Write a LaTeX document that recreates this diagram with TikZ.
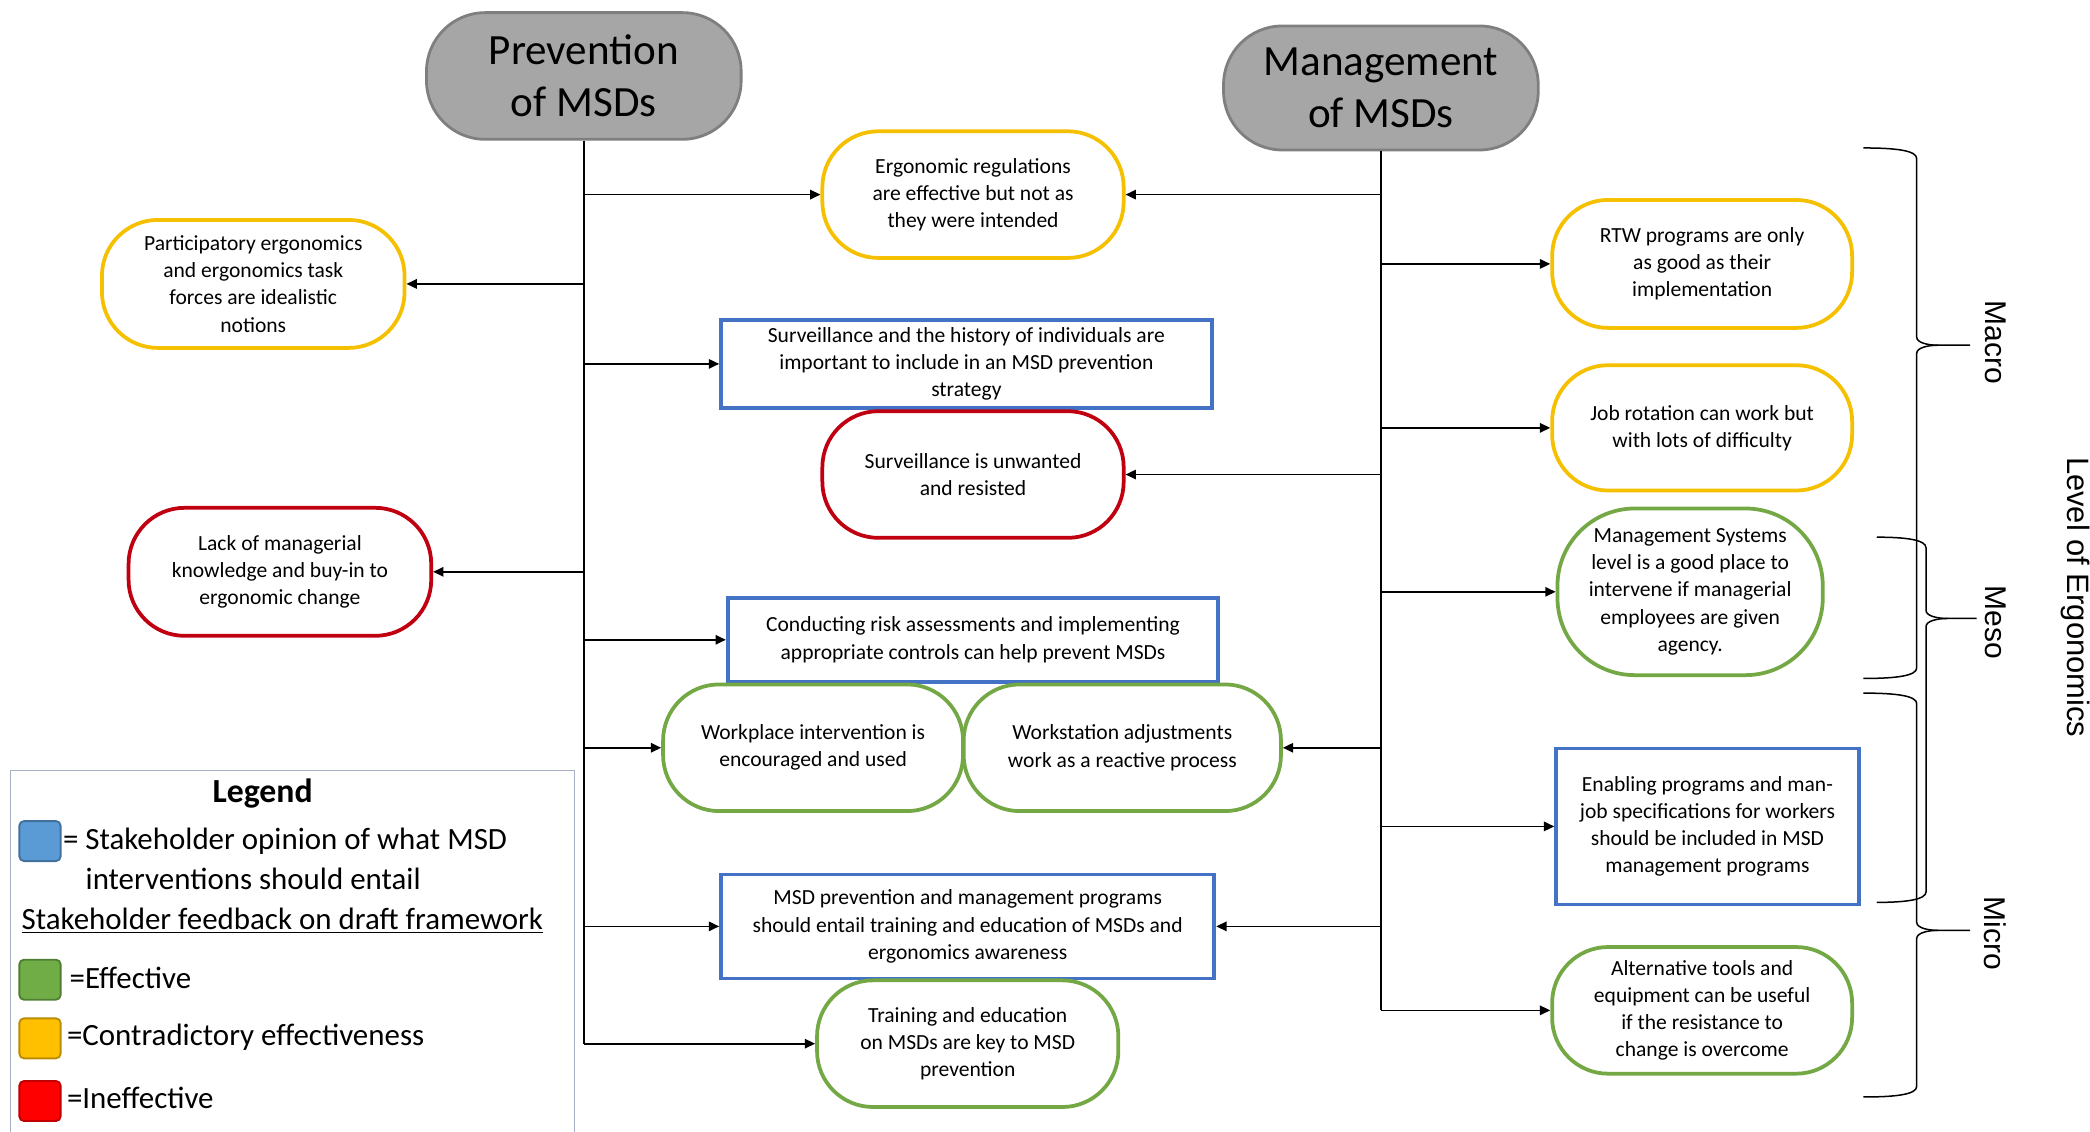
\documentclass[tikz,border=0pt]{standalone}
\usepackage{fontspec}
\setmainfont{Carlito}
\newfontfamily\arialf{Liberation Sans}
\usetikzlibrary{arrows.meta}
\definecolor{cyel}{HTML}{F5C000}
\definecolor{cred}{HTML}{C00010}
\definecolor{cgrn}{HTML}{74A845}
\definecolor{cblue}{HTML}{4472C4}
\definecolor{tfill}{HTML}{A6A6A6}
\definecolor{tborder}{HTML}{7F7F7F}
\definecolor{legb}{HTML}{A8B0C4}
\definecolor{sqblue}{HTML}{5B9BD5}
\definecolor{sqblueb}{HTML}{41719C}
\definecolor{sqgrn}{HTML}{70AD47}
\definecolor{sqgrnb}{HTML}{507E32}
\definecolor{sqyel}{HTML}{FFC000}
\definecolor{sqyelb}{HTML}{BC8C00}
\definecolor{sqred}{HTML}{FF0000}
\definecolor{sqredb}{HTML}{C00000}
\newcommand\lvlbrace[6]{%
\draw[line width=0.8pt] (#1,#4) .. controls (#2-15,#4) and (#2,#4+2) .. (#2,#4+8) -- (#2,#5-6) .. controls (#2,#5-2) and (#2+8,#5) .. (#2+16,#5) -- (#3,#5);
\draw[line width=0.8pt] (#2+16,#5) .. controls (#2+8,#5) and (#2,#5+2) .. (#2,#5+6) -- (#2,#6-8) .. controls (#2,#6-2) and (#2-15,#6) .. (#1,#6);}
\tikzset{
  ntext/.style={font=\fontsize{11.5}{14.5}\selectfont},
  ov/.style={draw, line width=2pt, rounded corners=1.05cm, inner sep=0pt, align=center, fill=white, ntext},
  yel/.style={ov, draw=cyel},
  rednode/.style={ov, draw=cred},
  grn/.style={ov, draw=cgrn},
  bbox/.style={draw=cblue, line width=2pt, inner sep=0pt, align=center, fill=white, ntext},
  titlenode/.style={draw=tborder, fill=tfill, line width=1.5pt, rounded corners=1.1cm, align=center, inner sep=0pt,
     minimum width=5.9cm, font=\fontsize{23}{27.6}\selectfont},
  arr/.style={-{Triangle[length=5.5pt,width=5pt]}, line width=0.9pt},
  trunk/.style={line width=0.9pt},
  lvl/.style={rotate=-90, font=\arialf\fontsize{16}{19}\selectfont, inner sep=0pt},
  legf/.style={font=\fontsize{16.5}{20}\selectfont, anchor=west, inner sep=0pt},
  sq/.style={line width=1pt, rounded corners=2.5pt, minimum width=0.775cm, minimum height=0.75cm, inner sep=0pt}
}
\begin{document}
\begin{tikzpicture}[x=0.025cm,y=-0.025cm]
\useasboundingbox (0,0) rectangle (1568,849);
\fill[white] (0,0) rectangle (1568,849);

% titles
\node[titlenode, minimum height=2.375cm] (prev) at (438,57) {Prevention\\of MSDs};
\node[titlenode, minimum height=2.325cm] (mgmt) at (1036,66) {Management\\of MSDs};

% centre nodes
\node[yel, minimum width=5.65cm, minimum height=2.375cm] (er) at (730,146) {Ergonomic regulations\\are effective but not as\\they were intended};
\node[yel, minimum width=5.675cm, minimum height=2.4cm] (part) at (190,213) {Participatory ergonomics\\and ergonomics task\\forces are idealistic\\notions};
\node[bbox, minimum width=9.2cm, minimum height=1.65cm] (surv) at (725,273) {Surveillance and the history of individuals are\\important to include in an MSD prevention\\strategy};
\node[rednode, minimum width=5.65cm, minimum height=2.375cm] (sunw) at (730,356) {Surveillance is unwanted\\and resisted};
\node[rednode, minimum width=5.675cm, minimum height=2.4cm] (lack) at (210,429) {Lack of managerial\\knowledge and buy-in to\\ergonomic change};
\node[bbox, minimum width=9.2cm, minimum height=1.575cm] (risk) at (730,480) {Conducting risk assessments and implementing\\appropriate controls can help prevent MSDs};
\node[grn, minimum width=5.625cm, minimum height=2.375cm] (wpi) at (610,561) {Workplace intervention is\\encouraged and used};
\node[grn, minimum width=5.95cm, minimum height=2.375cm] (wsa) at (842,561) {Workstation adjustments\\work as a reactive process};
\node[bbox, minimum width=9.25cm, minimum height=1.95cm] (msdp) at (726,695) {MSD prevention and management programs\\should entail training and education of MSDs and\\ergonomics awareness};
\node[grn, minimum width=5.65cm, minimum height=2.375cm] (train) at (726,783) {Training and education\\on MSDs are key to MSD\\prevention};

% right nodes
\node[yel, minimum width=5.625cm, minimum height=2.4cm] (rtw) at (1277,198) {RTW programs are only\\as good as their\\implementation};
\node[yel, minimum width=5.625cm, minimum height=2.35cm] (job) at (1277,321) {Job rotation can work but\\with lots of difficulty};
\node[grn, rounded corners=1.45cm, minimum width=4.975cm, minimum height=3.125cm] (msys) at (1268,444) {Management Systems\\level is a good place to\\intervene if managerial\\employees are given\\agency.};
\node[bbox, minimum width=5.675cm, minimum height=2.925cm] (enab) at (1281,620) {Enabling programs and man-\\job specifications for workers\\should be included in MSD\\management programs};
\node[grn, minimum width=5.625cm, minimum height=2.375cm] (alt) at (1277,758) {Alternative tools and\\equipment can be useful\\if the resistance to\\change is overcome};

% trunks
\draw[trunk] (prev.south) -- (prev.south |- train.west);
\draw[trunk] (mgmt.south) -- (mgmt.south |- alt.west);

% prevention branches
\draw[arr] (prev.south |- er.west) -- (er.west);
\draw[arr] (prev.south |- part.east) -- (part.east);
\draw[arr] (prev.south |- surv.west) -- (surv.west);
\draw[arr] (prev.south |- lack.east) -- (lack.east);
\draw[arr] (prev.south |- risk.west) -- (risk.west);
\draw[arr] (prev.south |- wpi.west) -- (wpi.west);
\draw[arr] (prev.south |- msdp.west) -- (msdp.west);
\draw[arr] (prev.south |- train.west) -- (train.west);

% management branches
\draw[arr] (mgmt.south |- er.east) -- (er.east);
\draw[arr] (mgmt.south |- rtw.west) -- (rtw.west);
\draw[arr] (mgmt.south |- job.west) -- (job.west);
\draw[arr] (mgmt.south |- sunw.east) -- (sunw.east);
\draw[arr] (mgmt.south |- msys.west) -- (msys.west);
\draw[arr] (mgmt.south |- wsa.east) -- (wsa.east);
\draw[arr] (mgmt.south |- enab.west) -- (enab.west);
\draw[arr] (mgmt.south |- msdp.east) -- (msdp.east);
\draw[arr] (mgmt.south |- alt.west) -- (alt.west);

% level braces
\lvlbrace{1398}{1438}{1478}{111}{259}{509}
\lvlbrace{1408}{1445}{1483}{403}{464}{677}
\lvlbrace{1398}{1438}{1478}{520}{698}{823}
\node[lvl] (macro) at (1497,257) {Macro};
\node[lvl] (meso) at (1497,467) {Meso};
\node[lvl] (micro) at (1497,700) {Micro};
\node[lvl, font=\arialf\fontsize{16.5}{20}\selectfont] (level) at (1557,448) {Level of Ergonomics};

% legend
\draw[draw=legb, line width=0.7pt] (8,578) rectangle (431,870);
\node[font=\bfseries\fontsize{18}{22}\selectfont, inner sep=0pt] (legt) at (197,595) {Legend};
\node[sq, fill=sqblue, draw=sqblueb] (sqb) at (30,631) {};
\node[legf] (lb1) at (47,631) {= Stakeholder opinion of what MSD};
\node[legf] (lb2) at (64,659) {interventions should entail};
\node[legf] (lfb) at (16,691) {\underline{Stakeholder feedback on draft framework}};
\node[sq, fill=sqgrn, draw=sqgrnb] (sqg) at (30,735) {};
\node[legf] (lg) at (52,734) {=Effective};
\node[sq, fill=sqyel, draw=sqyelb] (sqy) at (30,779) {};
\node[legf] (ly) at (50,778) {=Contradictory effectiveness};
\node[sq, fill=sqred, draw=sqredb] (sqr) at (30,826) {};
\node[legf] (lr) at (50,824) {=Ineffective};
\end{tikzpicture}
\end{document}
